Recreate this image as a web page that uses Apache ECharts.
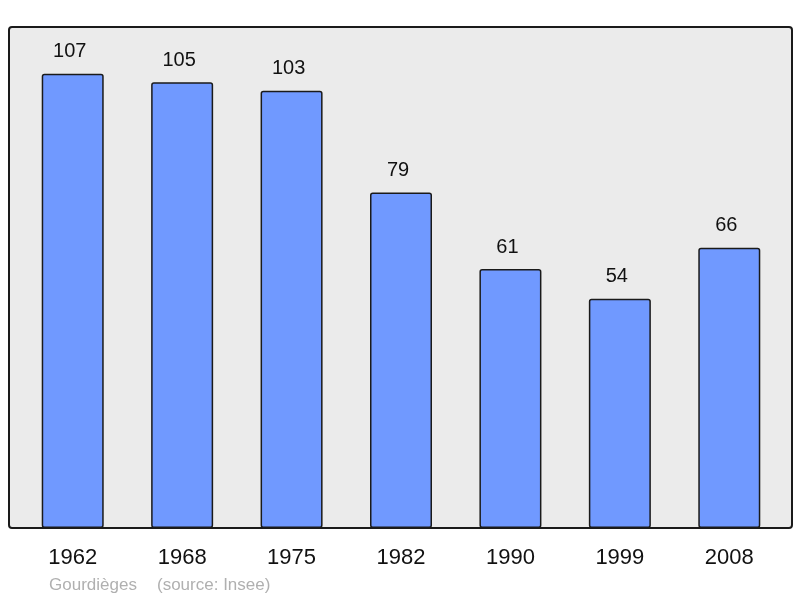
<!DOCTYPE html>
<html><head><meta charset="utf-8">
<script src="https://cdn.jsdelivr.net/npm/echarts@6/dist/echarts.min.js"></script>
<style>html,body{margin:0;padding:0;background:#fff}#c{width:800px;height:598px}</style>
</head><body><div id="c"></div>
<script>
const categories = ['1962','1968','1975','1982','1990','1999','2008'];
const population = [107,105,103,79,61,54,66];
const place = 'Gourdièges';
const source = '(source: Insee)';

const chart = echarts.init(document.getElementById('c'), null, {renderer:'canvas'});
chart.setOption({
  animation:false,
  backgroundColor:'#fff',
  textStyle:{fontFamily:'Liberation Sans, Arial, sans-serif'},
  grid:{left:18,right:16,top:27,bottom:70},
  graphic:[
    {type:'rect',z:-10,silent:true,shape:{x:9,y:27,width:783,height:501,r:3},
     style:{fill:'#ebebeb',stroke:'#1a1a1a',lineWidth:2}},
    {type:'text',left:49,top:577,style:{text:place,fill:'#b0b0b0',font:'17px Liberation Sans, Arial, sans-serif'}},
    {type:'text',left:157,top:577,style:{text:source,fill:'#b0b0b0',font:'17px Liberation Sans, Arial, sans-serif'}}
  ],
  xAxis:{type:'category',data:categories,
    axisLine:{show:false},axisTick:{show:false},
    axisLabel:{color:'#111',fontSize:22,margin:19,fontFamily:'Liberation Sans, Arial, sans-serif'}},
  yAxis:{type:'value',min:0,max:118,show:false,splitLine:{show:false}},
  series:[{type:'bar',data:population,barWidth:62,
    itemStyle:{color:'#7099ff',borderColor:'#1a1a1a',borderWidth:1.5,borderRadius:2},
    label:{show:true,position:'top',distance:12,color:'#111',fontSize:20,fontFamily:'Liberation Sans, Arial, sans-serif',offset:[-3,0]}
  }]
});
</script></body></html>
